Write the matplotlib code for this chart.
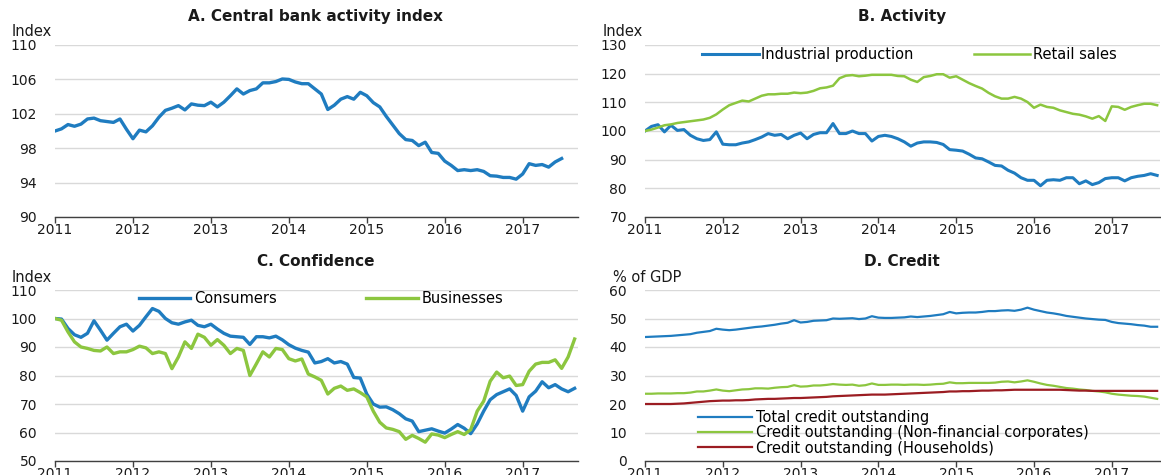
import numpy as np
import matplotlib
matplotlib.use("Agg")
import matplotlib.pyplot as plt

plt.rcParams["font.family"] = ["DejaVu Sans"]

# ---------------- data (monthly, starting January 2011) ----------------
year_ticks = [2011, 2012, 2013, 2014, 2015, 2016, 2017]

cb_activity = [
    100.0, 100.25, 100.75, 100.55, 100.8, 101.4, 101.5, 101.2, 101.1, 101.0, 101.4, 100.2,
    99.1, 100.1, 99.9, 100.6, 101.6, 102.4, 102.65, 102.95, 102.45, 103.15, 103.0, 102.95,
    103.35, 102.8, 103.35, 104.1, 104.9, 104.3, 104.7, 104.9, 105.6, 105.6, 105.75, 106.05,
    106.0, 105.7, 105.5, 105.5, 104.9, 104.3, 102.5, 103.0, 103.7, 104.0, 103.7, 104.5,
    104.1, 103.3, 102.8, 101.7, 100.7, 99.7, 99.0, 98.9, 98.3, 98.7, 97.5, 97.4,
    96.5, 96.0, 95.4, 95.5, 95.4, 95.5, 95.3, 94.8, 94.75, 94.6, 94.6, 94.4,
    95.0, 96.2, 96.0, 96.1, 95.8, 96.4, 96.8,
]

industrial_production = [
    100.0, 101.6, 102.2, 99.7, 102.0, 100.2, 100.5, 98.5, 97.3, 96.7, 97.0, 99.7,
    95.4, 95.2, 95.2, 95.8, 96.2, 97.0, 97.9, 99.1, 98.5, 98.8, 97.3, 98.5,
    99.3, 97.3, 98.8, 99.4, 99.4, 102.6, 99.1, 99.1, 100.0, 99.1, 99.1, 96.5,
    98.1, 98.5, 98.1, 97.3, 96.2, 94.7, 95.8, 96.2, 96.2, 96.0, 95.3, 93.5,
    93.3, 93.0, 91.9, 90.6, 90.3, 89.2, 88.0, 87.8, 86.3, 85.3, 83.7, 82.8,
    82.8, 80.9, 82.8, 83.0, 82.8, 83.7, 83.7, 81.6, 82.6, 81.3, 82.0, 83.4,
    83.7, 83.7, 82.6, 83.7, 84.2, 84.5, 85.1, 84.5,
]

retail_sales = [
    100.0, 100.5, 101.2, 102.0, 102.3, 102.8, 103.1, 103.4, 103.7, 104.0, 104.6, 105.8,
    107.5, 109.0, 109.8, 110.6, 110.3, 111.3, 112.3, 112.8, 112.8, 113.0, 113.0, 113.4,
    113.2, 113.4, 114.0, 114.9, 115.2, 115.8, 118.4, 119.3, 119.5, 119.1, 119.3, 119.6,
    119.6, 119.6, 119.6, 119.2, 119.1, 117.9, 117.1, 118.8, 119.2, 119.8, 119.8, 118.6,
    119.1, 117.9, 116.7, 115.7, 114.8, 113.3, 112.1, 111.3, 111.3, 111.9, 111.3, 110.1,
    108.1, 109.2, 108.4, 108.1, 107.2, 106.6, 106.0, 105.7, 105.1, 104.3, 105.2, 103.5,
    108.6, 108.4, 107.4, 108.4, 109.0, 109.5, 109.5, 109.0,
]

consumers = [
    100.0, 99.8, 96.5, 94.3, 93.4, 94.8, 99.2, 95.9, 92.4, 94.8, 97.1, 98.0,
    95.6, 97.6, 100.6, 103.5, 102.5, 100.0, 98.5, 98.0, 98.8, 99.4, 97.6, 97.1,
    98.0, 96.3, 94.8, 93.8, 93.6, 93.4, 90.9, 93.6, 93.6, 93.2, 93.8, 92.5,
    90.8, 89.6, 88.8, 88.2, 84.4, 84.9, 85.9, 84.4, 84.9, 84.0, 79.3, 79.1,
    73.5, 70.0, 68.9, 69.0, 68.0, 66.6, 64.8, 64.0, 60.3, 60.8, 61.3, 60.5,
    59.8, 61.2, 62.8, 61.5, 59.6, 63.0, 67.5, 71.5, 73.3, 74.3, 75.3, 73.0,
    67.5, 72.5, 74.5, 77.8, 75.7, 76.8, 75.3, 74.3, 75.5,
]

businesses = [
    100.0, 99.4, 95.3, 91.8, 90.0, 89.5, 88.8, 88.6, 90.0, 87.7, 88.3, 88.3,
    89.1, 90.3, 89.7, 87.7, 88.3, 87.7, 82.4, 86.5, 91.8, 89.5, 94.5, 93.4,
    90.6, 92.6, 90.6, 87.7, 89.5, 88.8, 80.0, 84.1, 88.3, 86.5, 89.5, 89.1,
    85.9, 85.1, 85.8, 80.5, 79.5, 78.3, 73.5, 75.5, 76.3, 74.8, 75.3, 74.0,
    72.5, 67.5, 63.6, 61.6, 61.1, 60.3, 57.6, 59.0, 57.9, 56.6, 59.5, 59.1,
    58.2, 59.3, 60.3, 59.3, 61.0, 67.5, 71.0, 78.0, 81.2, 79.2, 79.8, 76.5,
    76.8, 81.5, 84.0, 84.6, 84.6, 85.5, 82.5, 86.5, 92.8,
]

credit_total = [
    43.5, 43.6, 43.7, 43.8, 43.9, 44.1, 44.3, 44.5, 45.0, 45.3, 45.6, 46.4,
    46.1, 45.9, 46.1, 46.4, 46.7, 47.0, 47.2, 47.5, 47.8, 48.2, 48.5, 49.4,
    48.6, 48.8, 49.2, 49.3, 49.4, 50.0, 49.9, 50.0, 50.1, 49.8, 50.0, 50.8,
    50.3, 50.2, 50.2, 50.3, 50.4, 50.7, 50.5, 50.7, 50.9, 51.2, 51.5, 52.3,
    51.8, 52.0, 52.1, 52.1, 52.3, 52.6, 52.6, 52.8, 52.9, 52.7, 53.1, 53.8,
    53.1, 52.6, 52.1, 51.8, 51.4, 50.9, 50.6, 50.3, 50.0, 49.8, 49.6, 49.5,
    48.8, 48.4, 48.2, 48.0, 47.7, 47.5, 47.1, 47.1,
]

credit_nfc = [
    23.6, 23.6, 23.7, 23.7, 23.7, 23.8, 23.8, 24.0, 24.4, 24.4, 24.7, 25.1,
    24.7, 24.5, 24.8, 25.1, 25.2, 25.5, 25.5, 25.4, 25.7, 25.9, 26.0, 26.6,
    26.1, 26.2, 26.5, 26.5, 26.7, 27.0, 26.8, 26.7, 26.8, 26.4, 26.6, 27.2,
    26.7, 26.7, 26.8, 26.8, 26.7, 26.8, 26.8, 26.7, 26.8, 27.0, 27.1, 27.6,
    27.3, 27.3, 27.4, 27.4, 27.4, 27.4, 27.5, 27.8, 27.9, 27.6, 27.9, 28.3,
    27.8, 27.2, 26.7, 26.4, 26.0, 25.6, 25.4, 25.1, 24.9, 24.6, 24.4, 24.1,
    23.6, 23.3, 23.1, 22.9, 22.8, 22.6, 22.2, 21.8,
]

credit_households = [
    20.0, 20.0, 20.0, 20.0, 20.0, 20.1, 20.2, 20.4, 20.6, 20.8, 21.0, 21.1,
    21.2, 21.2, 21.3, 21.3, 21.4, 21.6, 21.7, 21.8, 21.8, 21.9, 22.0, 22.1,
    22.1, 22.2, 22.3, 22.4, 22.5, 22.7, 22.8, 22.9, 23.0, 23.1, 23.2, 23.3,
    23.3, 23.3, 23.4, 23.5, 23.6, 23.7, 23.8, 23.9, 24.0, 24.1, 24.2, 24.4,
    24.4, 24.5, 24.5, 24.6, 24.7, 24.7, 24.8, 24.8, 24.9, 25.0, 25.0, 25.0,
    25.0, 25.0, 25.0, 25.0, 25.0, 24.9, 24.8, 24.7, 24.7, 24.6, 24.6, 24.6,
    24.6, 24.6, 24.6, 24.6, 24.6, 24.6, 24.6, 24.6,
]

a_yticks = [90, 94, 98, 102, 106, 110]
b_yticks = [70, 80, 90, 100, 110, 120, 130]
c_yticks = [50, 60, 70, 80, 90, 100, 110]
d_yticks = [0, 10, 20, 30, 40, 50, 60]


def monthly(values):
    return 2011 + np.arange(len(values)) / 12.0


# ---------------- styling ----------------
BLUE = "#1f7cc0"
GREEN = "#8cc63f"
RED = "#9b1c22"
GRID = "#d9d9d9"
AXIS = "#404040"
TXT = "#1a1a1a"

W, H = 1161, 475
fig = plt.figure(figsize=(W / 100, H / 100), dpi=100)


def add_axes(l, t, r, b):
    return fig.add_axes([l / W, 1 - b / H, (r - l) / W, (b - t) / H])


def style(ax, yticks, xmax):
    ax.set_xlim(2011, xmax)
    ax.set_ylim(yticks[0], yticks[-1])
    ax.set_yticks(yticks)
    ax.set_xticks(year_ticks)
    ax.set_xticklabels([str(y) for y in year_ticks])
    for s in ("top", "right", "left"):
        ax.spines[s].set_visible(False)
    ax.spines["bottom"].set_color(AXIS)
    ax.spines["bottom"].set_linewidth(1.0)
    ax.grid(axis="y", color=GRID, linewidth=1.0)
    ax.set_axisbelow(True)
    ax.tick_params(axis="y", length=0, pad=13, labelsize=10, labelcolor=TXT)
    ax.tick_params(axis="x", length=4, width=1, color=AXIS, pad=0,
                   labelsize=10, labelcolor=TXT, direction="out")


def title(text, x, y):
    fig.text(x / W, 1 - y / H, text, ha="center", va="center",
             fontsize=11, fontweight="bold", color=TXT)


def unit(text, x, y):
    fig.text(x / W, 1 - y / H, text, ha="left", va="center",
             fontsize=10.5, color=TXT)


# Panel A
axA = add_axes(55, 45, 578, 217)
axA.plot(monthly(cb_activity), cb_activity, color=BLUE, lw=2.4,
         solid_joinstyle="round")
style(axA, a_yticks, 2017.71)
title("A. Central bank activity index", 316, 17)
unit("Index", 12, 32)

# Panel B
axB = add_axes(645, 45, 1160, 217)
axB.plot(monthly(industrial_production), industrial_production, color=BLUE,
         lw=2.2, label="Industrial production", solid_joinstyle="round")
axB.plot(monthly(retail_sales), retail_sales, color=GREEN, lw=1.8,
         label="Retail sales", solid_joinstyle="round")
style(axB, b_yticks, 2017.62)
axB.legend(loc="upper left", bbox_to_anchor=(0.11, 0.986), ncol=2,
           frameon=False, fontsize=10.5, handlelength=3.9, handletextpad=0.2,
           columnspacing=4.1, borderpad=0, borderaxespad=0)
title("B. Activity", 902, 17)
unit("Index", 603, 32)

# Panel C
axC = add_axes(55, 290, 578, 461)
axC.plot(monthly(consumers), consumers, color=BLUE, lw=2.4,
         label="Consumers", solid_joinstyle="round")
axC.plot(monthly(businesses), businesses, color=GREEN, lw=2.4,
         label="Businesses", solid_joinstyle="round")
style(axC, c_yticks, 2017.71)
axC.legend(loc="upper left", bbox_to_anchor=(0.16, 0.995), ncol=2,
           frameon=False, fontsize=10.5, handlelength=3.55, handletextpad=0.25,
           columnspacing=6.1, borderpad=0, borderaxespad=0)
title("C. Confidence", 316, 262)
unit("Index", 12, 277)

# Panel D
axD = add_axes(645, 290, 1160, 461)
axD.plot(monthly(credit_total), credit_total, color=BLUE, lw=1.6,
         label="Total credit outstanding")
axD.plot(monthly(credit_nfc), credit_nfc, color=GREEN, lw=1.6,
         label="Credit outstanding (Non-financial corporates)")
axD.plot(monthly(credit_households), credit_households, color=RED, lw=1.6,
         label="Credit outstanding (Households)")
style(axD, d_yticks, 2017.62)
axD.legend(loc="lower left", bbox_to_anchor=(0.103, 0.032), ncol=1,
           frameon=False, fontsize=10.5, handlelength=3.7, handletextpad=0.27,
           labelspacing=0.03, borderpad=0, borderaxespad=0)
title("D. Credit", 902, 262)
unit("% of GDP", 613, 277)

fig.savefig("out.png", dpi=100)
